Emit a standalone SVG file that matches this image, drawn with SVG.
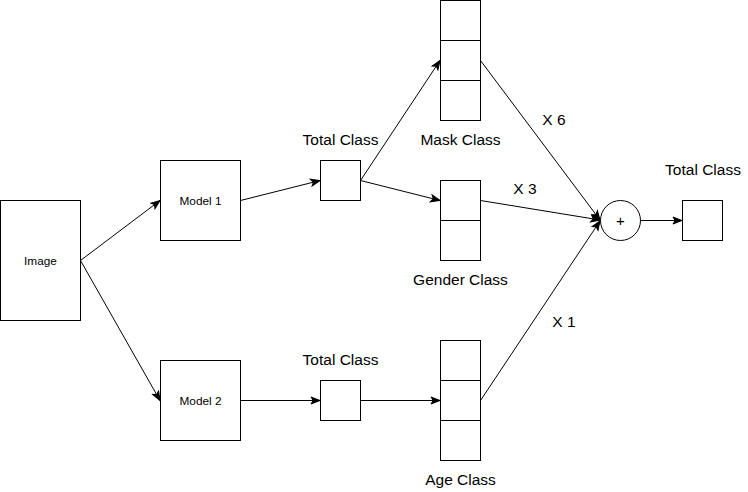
<svg xmlns="http://www.w3.org/2000/svg" width="748" height="492" viewBox="0 0 748 492">
<defs>
<style>
.box{fill:#fff;stroke:#000;stroke-width:1}
.edge{fill:none;stroke:#000;stroke-width:1;marker-end:url(#arr)}
.lbl{font-family:"Liberation Sans",Arial,sans-serif;font-size:15.5px;fill:#000;text-anchor:middle}
.small{font-family:"Liberation Sans",Arial,sans-serif;font-size:11.8px;fill:#000;text-anchor:middle}
.plus{font-family:"Liberation Sans",Arial,sans-serif;font-size:15px;fill:#000;text-anchor:middle}
</style>
<marker id="arr" markerUnits="userSpaceOnUse" markerWidth="12" markerHeight="10" viewBox="0 0 12 10" refX="10" refY="5" orient="auto">
<path d="M1,1.5 L10,5 L1,8.5 L3.2,5 Z" fill="#000" stroke="#000" stroke-width="1"/>
</marker>
</defs>
<rect width="748" height="492" fill="#fff"/>
<g id="connectors">
<path class="edge" d="M80.5,260.5 L160,200.5"/>
<path class="edge" d="M80.5,260.5 L160,400.5"/>
<path class="edge" d="M240.5,200.5 L320,180.5"/>
<path class="edge" d="M240.5,400.5 L320,400.5"/>
<path class="edge" d="M360.5,180.5 L440,60.5"/>
<path class="edge" d="M360.5,180.5 L440,200.5"/>
<path class="edge" d="M360.5,400.5 L440,400.5"/>
<path class="edge" d="M480.5,60.5 L600,220"/>
<path class="edge" d="M480.5,200.5 L600,220"/>
<path class="edge" d="M480.5,400.5 L600,221"/>
<path class="edge" d="M640.5,220.5 L682,220.5"/>
</g>
<g id="image">
<rect class="box" x="0.5" y="200.5" width="80" height="120"/>
<text class="small" x="40.5" y="264.5">Image</text>
</g>
<g id="model1">
<rect class="box" x="160.5" y="160.5" width="80" height="80"/>
<text class="small" x="200.5" y="204.5">Model 1</text>
</g>
<g id="model2">
<rect class="box" x="160.5" y="360.5" width="80" height="80"/>
<text class="small" x="200.5" y="404.5">Model 2</text>
</g>
<g id="total1">
<rect class="box" x="320.5" y="160.5" width="40" height="40"/>
<text class="lbl" x="340.5" y="145">Total Class</text>
</g>
<g id="total2">
<rect class="box" x="320.5" y="380.5" width="40" height="40"/>
<text class="lbl" x="340.5" y="365">Total Class</text>
</g>
<g id="mask">
<rect class="box" x="440.5" y="0.5" width="40" height="40"/>
<rect class="box" x="440.5" y="40.5" width="40" height="40"/>
<rect class="box" x="440.5" y="80.5" width="40" height="40"/>
<text class="lbl" x="460.5" y="145">Mask Class</text>
</g>
<g id="gender">
<rect class="box" x="440.5" y="180.5" width="40" height="40"/>
<rect class="box" x="440.5" y="220.5" width="40" height="40"/>
<text class="lbl" x="460.5" y="285">Gender Class</text>
</g>
<g id="age">
<rect class="box" x="440.5" y="340.5" width="40" height="40"/>
<rect class="box" x="440.5" y="380.5" width="40" height="40"/>
<rect class="box" x="440.5" y="420.5" width="40" height="40"/>
<text class="lbl" x="460.5" y="485">Age Class</text>
</g>
<g id="sum">
<circle class="box" cx="620.5" cy="220.5" r="20"/>
<text class="plus" x="620.5" y="226">+</text>
</g>
<g id="total3">
<rect class="box" x="682.5" y="200.5" width="40" height="40"/>
<text class="lbl" x="703" y="175">Total Class</text>
</g>
<g id="weights">
<text class="lbl" x="554" y="125">X 6</text>
<text class="lbl" x="525" y="194">X 3</text>
<text class="lbl" x="564" y="327">X 1</text>
</g>
</svg>
